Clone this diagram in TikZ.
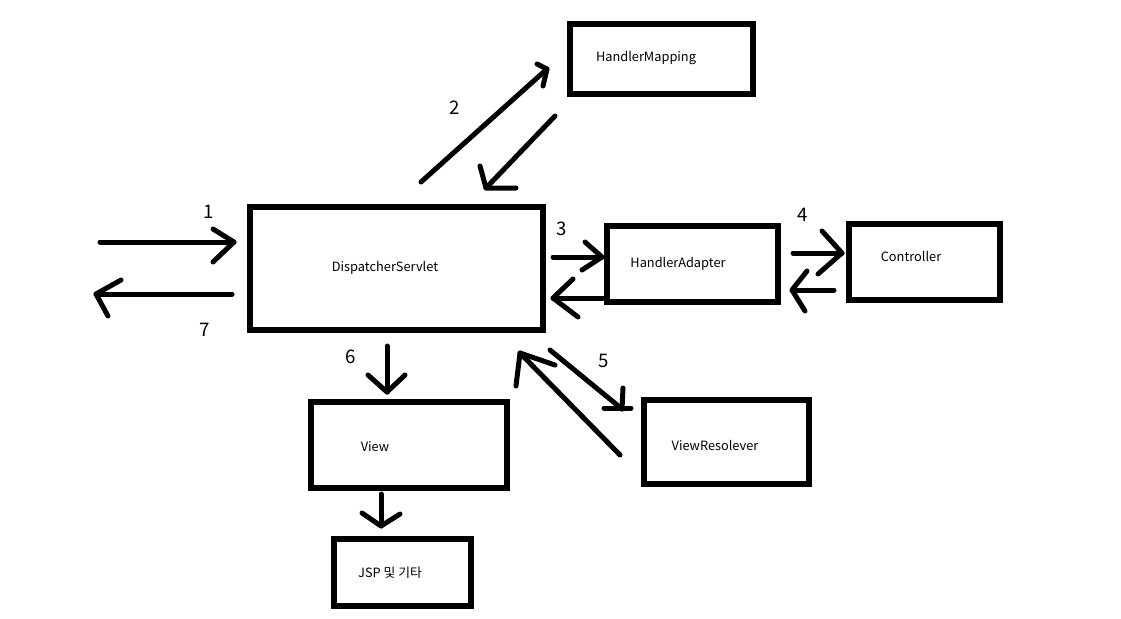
\documentclass[tikz,border=0pt]{standalone}
\usepackage{fontspec}
\setmainfont{Noto Sans CJK KR}
\begin{document}
\begin{tikzpicture}[x=0.75pt,y=-0.75pt,
  box/.style={draw, line width=4.5pt, inner sep=0pt},
  lbl/.style={font=\fontsize{9.6}{10}\selectfont, inner sep=0pt},
  num/.style={font=\fontsize{14}{14}\selectfont, inner sep=0pt},
  arr/.style={line width=3.75pt, line cap=round, line join=round}]
\useasboundingbox[fill=white] (0,0) rectangle (1121,618);

% boxes
\node[box, minimum width=137.25pt, minimum height=52.5pt] (hm) at (661.5,59) {};
\node[box, minimum width=219.75pt, minimum height=92.25pt] (ds) at (396.5,268.5) {};
\node[box, minimum width=128.25pt, minimum height=57pt] (ha) at (692.5,264) {};
\node[box, minimum width=113.25pt, minimum height=57pt] (ct) at (924.5,262) {};
\node[box, minimum width=147pt, minimum height=64.5pt] (vw) at (409,445) {};
\node[box, minimum width=123.75pt, minimum height=63pt] (vr) at (726.5,442) {};
\node[box, minimum width=102.75pt, minimum height=50.25pt] (jsp) at (402.5,572.5) {};

% texts
\node[lbl] (thm) at (646,58) {HandlerMapping};
\node[lbl] (tds) at (385,268) {DispatcherServlet};
\node[lbl] (tha) at (678,264) {HandlerAdapter};
\node[lbl] (tct) at (911,256) {Controller};
\node[lbl] (tvw) at (375,447) {View};
\node[lbl] (tvr) at (715,445) {ViewResolever};
\node[lbl] (tjsp) at (390,573) {JSP 및 기타};

% numbers
\node[num] (n1) at (209,212) {1};
\node[num] (n2) at (455,108) {2};
\node[num] (n3) at (562,229) {3};
\node[num] (n4) at (803,215) {4};
\node[num] (n5) at (604,361) {5};
\node[num] (n6) at (351,357) {6};
\node[num] (n7) at (205,330) {7};

% arrow coordinates
\coordinate (a1s) at (100,242); \coordinate (a1e) at (234,242);
\coordinate (a1h) at (213,229); \coordinate (a1k) at (213,262);
\coordinate (a7s) at (232,294); \coordinate (a7e) at (96,294);
\coordinate (a7h) at (121,280); \coordinate (a7k) at (108,316);
\coordinate (a2s) at (421,182); \coordinate (a2e) at (547,69);
\coordinate (a2h) at (537,64); \coordinate (a2k) at (543,86);
\coordinate (b2s) at (555,116); \coordinate (b2e) at (486,188);
\coordinate (b2h) at (480,166); \coordinate (b2k) at (516,188);
\coordinate (a3s) at (553,257); \coordinate (a3e) at (602,257);
\coordinate (a3h) at (585,242); \coordinate (a3k) at (582,270);
\coordinate (b3s) at (603,298); \coordinate (b3e) at (553,298);
\coordinate (b3h) at (573,279); \coordinate (b3k) at (578,317);
\coordinate (a4s) at (793,253); \coordinate (a4e) at (842,253);
\coordinate (a4h) at (822,231); \coordinate (a4k) at (818,274);
\coordinate (b4s) at (834,290); \coordinate (b4e) at (792,290);
\coordinate (b4h) at (807,271); \coordinate (b4k) at (805,311);
\coordinate (a6s) at (387,346); \coordinate (a6e) at (387,392);
\coordinate (a6h) at (368,375); \coordinate (a6k) at (405,375);
\coordinate (b5s) at (620,455); \coordinate (b5e) at (520,353);
\coordinate (b5h) at (516,386); \coordinate (b5k) at (555,365);
\coordinate (a5s) at (550,350); \coordinate (a5e) at (622,409);
\coordinate (a5h) at (623,388); \coordinate (a5l) at (604,408); \coordinate (a5r) at (631,408);
\coordinate (a8s) at (381,494); \coordinate (a8e) at (381,526);
\coordinate (a8h) at (362,513); \coordinate (a8k) at (400,514);

% arrows
\draw[arr] (a1s) -- (a1e); \draw[arr] (a1h) -- (a1e) -- (a1k);
\draw[arr] (a7s) -- (a7e); \draw[arr] (a7h) -- (a7e) -- (a7k);
\draw[arr] (a2s) -- (a2e); \draw[arr] (a2h) -- (a2e) -- (a2k);
\draw[arr] (b2s) -- (b2e); \draw[arr] (b2h) -- (b2e) -- (b2k);
\draw[arr] (a3s) -- (a3e); \draw[arr] (a3h) -- (a3e) -- (a3k);
\draw[arr] (b3s) -- (b3e); \draw[arr] (b3h) -- (b3e) -- (b3k);
\draw[arr] (a4s) -- (a4e); \draw[arr] (a4h) -- (a4e) -- (a4k);
\draw[arr] (b4s) -- (b4e); \draw[arr] (b4h) -- (b4e) -- (b4k);
\draw[arr] (a6s) -- (a6e); \draw[arr] (a6h) -- (a6e) -- (a6k);
\draw[arr] (b5s) -- (b5e); \draw[arr] (b5h) -- (b5e) -- (b5k);
\draw[arr] (a5s) -- (a5e); \draw[arr] (a5h) -- (a5e); \draw[arr] (a5l) -- (a5r);
\draw[arr] (a8s) -- (a8e); \draw[arr] (a8h) -- (a8e) -- (a8k);
\end{tikzpicture}
\end{document}
